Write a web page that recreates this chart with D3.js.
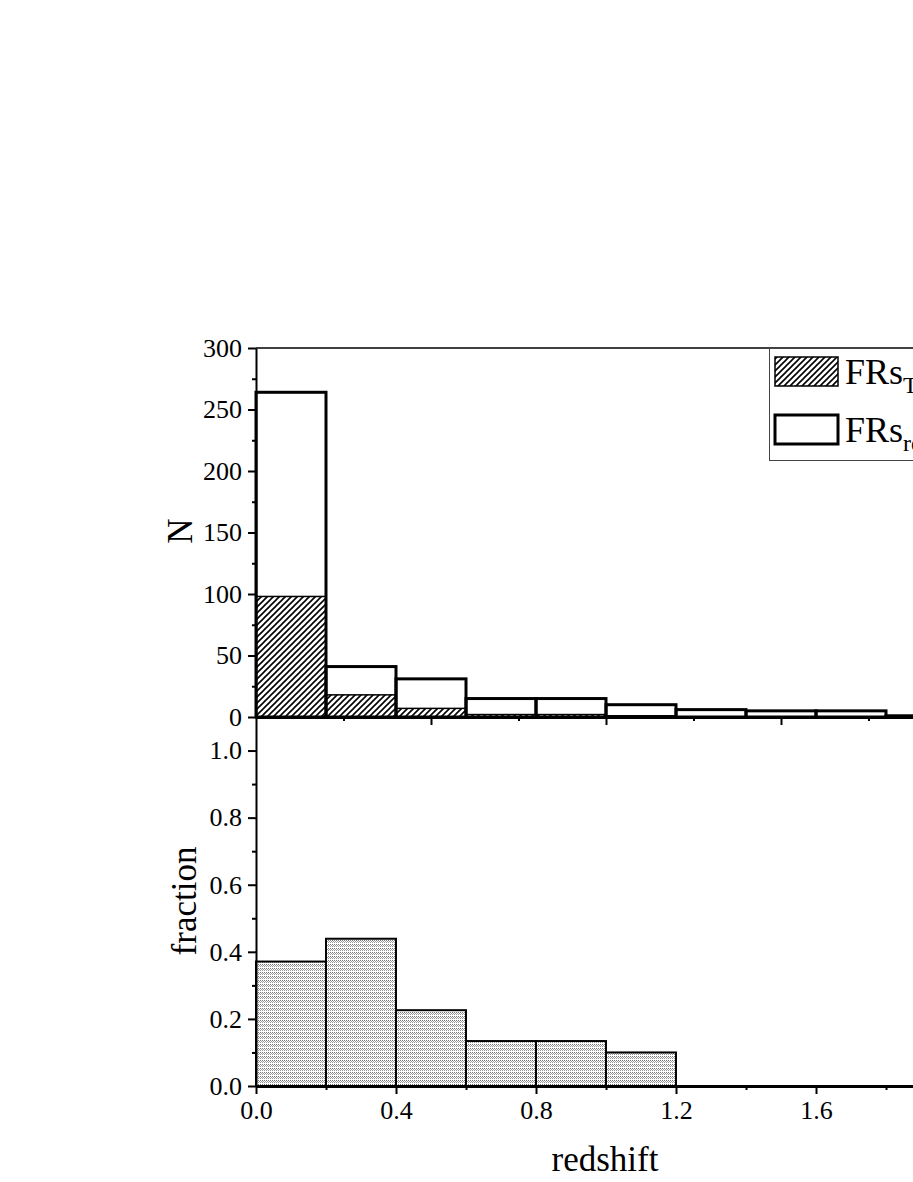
<!DOCTYPE html>
<html><head><meta charset="utf-8">
<script src="https://cdn.jsdelivr.net/npm/d3@7"></script>
<style>body{margin:0;background:#fff;} svg{display:block;}</style>
</head><body>
<svg id="c" width="913" height="1182"></svg>
<script>
const binEdges = [0.0,0.2,0.4,0.6,0.8,1.0,1.2,1.4,1.6,1.8,2.0];
const totalCounts = [264,41,31,15,15,10,6,5,5,1];
const hatchedCounts = [98,18,7,2,2,1,0,0,0,0];
const fractions = [0.371,0.439,0.226,0.134,0.134,0.10];
const topYTicks = [0,50,100,150,200,250,300];
const botYTicks = [0.0,0.2,0.4,0.6,0.8,1.0];
const botXTicks = [0.0,0.4,0.8,1.2,1.6,2.0];
const legendLabels = [["FRs","TeV"],["FRs","ref"]];

const svg = d3.select("#c");
const font = "'Liberation Serif','Times New Roman',serif";
const x = d3.scaleLinear().domain([0,2]).range([256,956]);
const yT = d3.scaleLinear().domain([0,300]).range([717,348]);
const yB = d3.scaleLinear().domain([0,1.1]).range([1086,717]);

const defs = svg.append("defs");
const hp = defs.append("pattern").attr("id","hatch").attr("patternUnits","userSpaceOnUse")
  .attr("width",6).attr("height",6);
hp.append("rect").attr("width",6).attr("height",6).attr("fill","#fff");
hp.append("path").attr("d","M-1,1 l2,-2 M0,6 l6,-6 M5,7 l2,-2").attr("stroke","#000").attr("stroke-width",1.6);
const dp = defs.append("pattern").attr("id","dots").attr("patternUnits","userSpaceOnUse")
  .attr("width",2).attr("height",4);
dp.append("rect").attr("width",2).attr("height",4).attr("fill","#fff");
dp.append("rect").attr("x",0).attr("y",0).attr("width",1).attr("height",1).attr("fill","#777");
dp.append("rect").attr("x",1).attr("y",1).attr("width",1).attr("height",1).attr("fill","#999");
dp.append("rect").attr("x",0).attr("y",2).attr("width",1).attr("height",1).attr("fill","#999");

const bins = totalCounts.map((v,i)=>({x0:binEdges[i],x1:binEdges[i+1],t:v,h:hatchedCounts[i]}));

// top panel hatched bars
svg.append("g").selectAll("rect").data(bins.filter(d=>d.h>0)).join("rect")
  .attr("x",d=>x(d.x0)).attr("width",d=>x(d.x1)-x(d.x0))
  .attr("y",d=>yT(d.h)).attr("height",d=>yT(0)-yT(d.h))
  .attr("fill","url(#hatch)").attr("stroke","#000").attr("stroke-width",1.5);
// top panel total bars
svg.append("g").selectAll("rect").data(bins).join("rect")
  .attr("x",d=>x(d.x0)).attr("width",d=>x(d.x1)-x(d.x0))
  .attr("y",d=>yT(d.t)).attr("height",d=>yT(0)-yT(d.t))
  .attr("fill","none").attr("stroke","#000").attr("stroke-width",3);

// bottom panel bars
const fb = fractions.map((v,i)=>({x0:binEdges[i],x1:binEdges[i+1],v:v}));
svg.append("g").selectAll("rect").data(fb).join("rect")
  .attr("x",d=>x(d.x0)).attr("width",d=>x(d.x1)-x(d.x0))
  .attr("y",d=>yB(d.v)).attr("height",d=>yB(0)-yB(d.v))
  .attr("fill","url(#dots)").attr("stroke","#000").attr("stroke-width",2);

function styleAxis(g, sw){
  g.select(".domain").attr("stroke","#000").attr("stroke-width",sw);
  g.selectAll(".tick line").attr("stroke","#000").attr("stroke-width",2);
  g.selectAll("text").attr("font-family",font).attr("font-size",26).attr("fill","#000");
}

// top panel y axis
const gTy = svg.append("g").attr("transform","translate(256,0)")
  .call(d3.axisLeft(yT).tickValues(topYTicks).tickSize(8).tickPadding(6).tickSizeOuter(0));
styleAxis(gTy,2);
svg.append("g").attr("transform","translate(256,0)")
  .call(d3.axisLeft(yT).tickValues(d3.range(25,300,50)).tickSize(4).tickFormat(""))
  .call(g=>{g.select(".domain").remove(); g.selectAll("line").attr("stroke","#000").attr("stroke-width",2);});
// top frame
svg.append("line").attr("x1",256).attr("x2",960).attr("y1",yT(300)).attr("y2",yT(300))
  .attr("stroke","#000").attr("stroke-width",1.5);
// top panel bottom axis (ticks at 0.5, minor 0.25, pointing down)
const gTx = svg.append("g").attr("transform","translate(0,717)")
  .call(d3.axisBottom(x).tickValues([0.5,1.0,1.5]).tickSize(8).tickFormat("").tickSizeOuter(0));
gTx.select(".domain").attr("stroke","#000").attr("stroke-width",3);
gTx.selectAll("line").attr("stroke","#000").attr("stroke-width",2);
svg.append("g").attr("transform","translate(0,717)")
  .call(d3.axisBottom(x).tickValues([0.25,0.75,1.25,1.75]).tickSize(4).tickFormat(""))
  .call(g=>{g.select(".domain").remove(); g.selectAll("line").attr("stroke","#000").attr("stroke-width",2);});

// bottom panel y axis
const gBy = svg.append("g").attr("transform","translate(256,0)")
  .call(d3.axisLeft(yB).tickValues(botYTicks).tickSize(8).tickPadding(6).tickFormat(d3.format(".1f")).tickSizeOuter(0));
styleAxis(gBy,2);
svg.append("g").attr("transform","translate(256,0)")
  .call(d3.axisLeft(yB).tickValues([0.1,0.3,0.5,0.7,0.9]).tickSize(4).tickFormat(""))
  .call(g=>{g.select(".domain").remove(); g.selectAll("line").attr("stroke","#000").attr("stroke-width",2);});
// bottom x axis
const gBx = svg.append("g").attr("transform","translate(0,1086)")
  .call(d3.axisBottom(x).tickValues(botXTicks).tickSize(8).tickPadding(7).tickFormat(d3.format(".1f")).tickSizeOuter(0));
styleAxis(gBx,3);
svg.append("g").attr("transform","translate(0,1086)")
  .call(d3.axisBottom(x).tickValues([0.2,0.6,1.0,1.4,1.8]).tickSize(4).tickFormat(""))
  .call(g=>{g.select(".domain").remove(); g.selectAll("line").attr("stroke","#000").attr("stroke-width",2);});

// axis titles
svg.append("text").attr("transform","translate(192,531) rotate(-90)").attr("text-anchor","middle")
  .attr("font-family",font).attr("font-size",35).text("N");
svg.append("text").attr("transform","translate(196,901) rotate(-90)").attr("text-anchor","middle")
  .attr("font-family",font).attr("font-size",35).text("fraction");
svg.append("text").attr("x",605).attr("y",1171).attr("text-anchor","middle")
  .attr("font-family",font).attr("font-size",35).text("redshift");

// legend
const lg = svg.append("g");
lg.append("rect").attr("x",769.5).attr("y",348.5).attr("width",250).attr("height",112)
  .attr("fill","#fff").attr("stroke","#444").attr("stroke-width",1);
lg.append("rect").attr("x",775).attr("y",357).attr("width",63).attr("height",29)
  .attr("fill","url(#hatch)").attr("stroke","#000").attr("stroke-width",1.5);
lg.append("rect").attr("x",775).attr("y",415).attr("width",63).attr("height",29)
  .attr("fill","#fff").attr("stroke","#000").attr("stroke-width",3);
legendLabels.forEach((l,i)=>{
  const t = lg.append("text").attr("x",845).attr("y",384+i*58).attr("font-family",font).attr("font-size",36);
  t.append("tspan").text(l[0]);
  t.append("tspan").attr("dy",9).attr("font-size",24).text(l[1]);
});
</script>
</body></html>
